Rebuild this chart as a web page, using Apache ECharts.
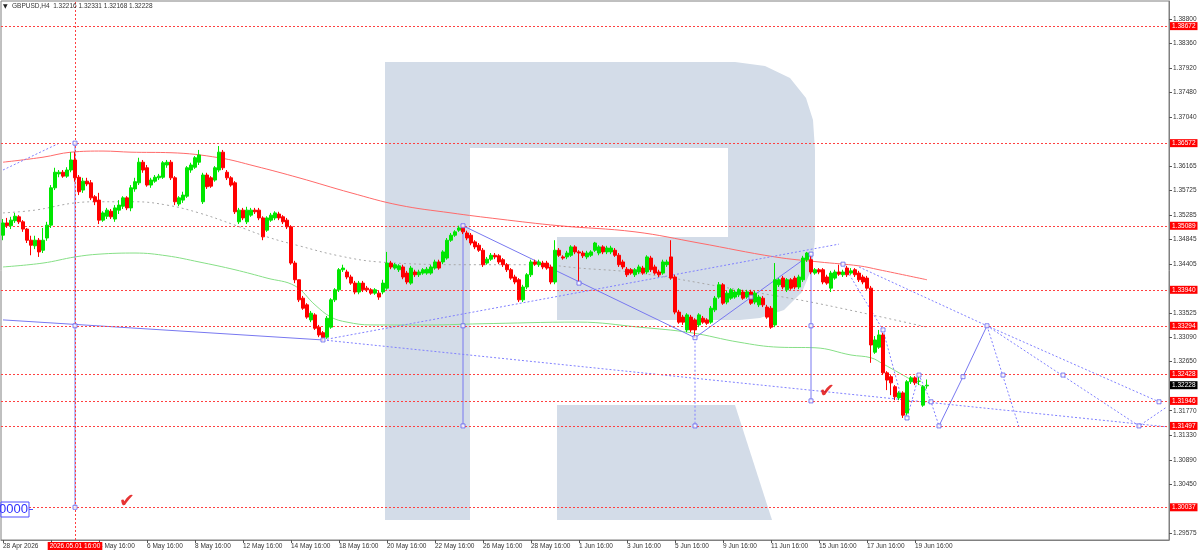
<!DOCTYPE html>
<html><head><meta charset="utf-8">
<script src="https://cdn.jsdelivr.net/npm/echarts@6/dist/echarts.min.js"></script>
<style>html,body{margin:0;padding:0;background:#fff}#c{width:1200px;height:555px}</style>
</head><body><div id="c"></div>
<script>
const TOTAL_BARS = 292;
const xTickLabels = [[0,'28 Apr 2026'],[12,'30 Apr 16:00'],[24,'4 May 16:00'],[36,'6 May 16:00'],[48,'8 May 16:00'],[60,'12 May 16:00'],[72,'14 May 16:00'],[84,'18 May 16:00'],[96,'20 May 16:00'],[108,'22 May 16:00'],[120,'26 May 16:00'],[132,'28 May 16:00'],[144,'1 Jun 16:00'],[156,'3 Jun 16:00'],[168,'5 Jun 16:00'],[180,'9 Jun 16:00'],[192,'11 Jun 16:00'],[204,'15 Jun 16:00'],[216,'17 Jun 16:00'],[228,'19 Jun 16:00']];
const yTickLabels = [1.38800,1.38360,1.37920,1.37480,1.37040,1.36165,1.35725,1.35285,1.34845,1.34405,1.33525,1.33090,1.32650,1.31770,1.31330,1.30890,1.30450,1.29575];
const priceLevels = [1.38672,1.36572,1.35089,1.33940,1.33294,1.32428,1.31946,1.31497,1.30037];
const currentPrice = 1.32228;
const crosshairIndex = 18;
const crosshairLabel = '2026.05.01 16:00';
const headerText = 'GBPUSD,H4  1.32216 1.32331 1.32168 1.32228';
// [open, close, low, high]
const candles = [
[1.3492,1.3514,1.3483,1.3521],[1.3514,1.3509,1.3505,1.3523],[1.3509,1.3519,1.3503,1.3525],[1.3518,1.3526,1.3514,1.3532],[1.3525,1.3516,1.3512,1.3528],
[1.3516,1.3503,1.3498,1.3519],[1.3503,1.3483,1.3478,1.3505],[1.3483,1.3474,1.3456,1.3491],[1.3473,1.3483,1.3467,1.3491],[1.3483,1.3462,1.3453,1.3487],
[1.3465,1.3483,1.3460,1.3505],[1.3487,1.3510,1.3482,1.3516],[1.3510,1.3577,1.3505,1.3582],[1.3577,1.3605,1.3573,1.3613],[1.3602,1.3605,1.3596,1.3609],
[1.3605,1.3598,1.3595,1.3609],[1.3598,1.3609,1.3595,1.3614],[1.3609,1.3627,1.3605,1.3641],[1.3627,1.3595,1.3588,1.3641],[1.3596,1.3570,1.3564,1.3600],
[1.3573,1.3589,1.3568,1.3595],[1.3589,1.3584,1.3580,1.3595],[1.3586,1.3559,1.3555,1.3591],[1.3561,1.3552,1.3546,1.3564],[1.3555,1.3519,1.3512,1.3568],
[1.3519,1.3532,1.3516,1.3535],[1.3526,1.3537,1.3521,1.3541],[1.3535,1.3525,1.3521,1.3539],[1.3521,1.3541,1.3516,1.3546],[1.3537,1.3546,1.3530,1.3555],
[1.3544,1.3559,1.3539,1.3562],[1.3559,1.3541,1.3537,1.3562],[1.3541,1.3577,1.3535,1.3582],[1.3575,1.3588,1.3570,1.3595],[1.3586,1.3623,1.3582,1.3631],
[1.3623,1.3609,1.3604,1.3627],[1.3613,1.3582,1.3579,1.3618],[1.3582,1.3591,1.3577,1.3595],[1.3589,1.3596,1.3586,1.3600],[1.3595,1.3598,1.3591,1.3602],
[1.3596,1.3622,1.3593,1.3625],[1.3618,1.3623,1.3613,1.3627],[1.3623,1.3595,1.3591,1.3627],[1.3595,1.3552,1.3546,1.3598],[1.3548,1.3559,1.3544,1.3562],
[1.3555,1.3564,1.3550,1.3570],[1.3562,1.3613,1.3559,1.3616],[1.3609,1.3618,1.3604,1.3622],[1.3614,1.3631,1.3611,1.3634],[1.3623,1.3636,1.3618,1.3645],
[1.3552,1.3600,1.3548,1.3604],[1.3600,1.3579,1.3575,1.3604],[1.3595,1.3580,1.3577,1.3598],[1.3591,1.3613,1.3588,1.3616],[1.3609,1.3641,1.3605,1.3652],
[1.3641,1.3613,1.3609,1.3645],[1.3605,1.3595,1.3591,1.3609],[1.3595,1.3582,1.3579,1.3598],[1.3586,1.3534,1.3530,1.3589],[1.3516,1.3537,1.3512,1.3541],
[1.3537,1.3523,1.3519,1.3541],[1.3516,1.3537,1.3512,1.3543],[1.3528,1.3537,1.3525,1.3541],[1.3537,1.3534,1.3530,1.3541],[1.3537,1.3523,1.3519,1.3541],
[1.3523,1.3489,1.3483,1.3526],[1.3501,1.3523,1.3498,1.3526],[1.3519,1.3528,1.3516,1.3532],[1.3523,1.3532,1.3519,1.3535],[1.3530,1.3523,1.3519,1.3534],
[1.3525,1.3516,1.3512,1.3528],[1.3519,1.3507,1.3503,1.3523],[1.3507,1.3442,1.3439,1.3510],[1.3442,1.3412,1.3406,1.3446],[1.3412,1.3376,1.3372,1.3412],
[1.3379,1.3361,1.3358,1.3383],[1.3367,1.3345,1.3342,1.3370],[1.3340,1.3352,1.3336,1.3356],[1.3349,1.3325,1.3322,1.3352],[1.3327,1.3313,1.3309,1.3331],
[1.3317,1.3308,1.3302,1.3320],[1.3309,1.3343,1.3306,1.3347],[1.3327,1.3376,1.3324,1.3379],[1.3376,1.3394,1.3372,1.3397],[1.3394,1.3430,1.3390,1.3433],
[1.3430,1.3433,1.3426,1.3439],[1.3426,1.3417,1.3413,1.3430],[1.3417,1.3406,1.3403,1.3421],[1.3406,1.3390,1.3386,1.3410],[1.3390,1.3406,1.3386,1.3410],
[1.3406,1.3394,1.3390,1.3410],[1.3397,1.3394,1.3390,1.3401],[1.3394,1.3388,1.3385,1.3397],[1.3388,1.3394,1.3385,1.3397],[1.3388,1.3381,1.3376,1.3392],
[1.3390,1.3406,1.3386,1.3412],[1.3397,1.3442,1.3394,1.3462],[1.3442,1.3435,1.3431,1.3446],[1.3433,1.3439,1.3430,1.3442],[1.3430,1.3437,1.3426,1.3440],
[1.3435,1.3417,1.3413,1.3439],[1.3424,1.3408,1.3404,1.3428],[1.3406,1.3433,1.3403,1.3437],[1.3426,1.3421,1.3417,1.3430],[1.3421,1.3426,1.3417,1.3430],
[1.3424,1.3430,1.3421,1.3433],[1.3424,1.3431,1.3421,1.3435],[1.3424,1.3435,1.3421,1.3439],[1.3433,1.3444,1.3430,1.3448],[1.3444,1.3433,1.3430,1.3448],
[1.3444,1.3462,1.3440,1.3465],[1.3451,1.3483,1.3448,1.3487],[1.3483,1.3492,1.3480,1.3496],[1.3492,1.3498,1.3489,1.3501],[1.3501,1.3505,1.3498,1.3509],
[1.3507,1.3498,1.3494,1.3509],[1.3496,1.3487,1.3483,1.3500],[1.3492,1.3478,1.3474,1.3496],[1.3480,1.3471,1.3467,1.3483],[1.3474,1.3465,1.3462,1.3478],
[1.3465,1.3439,1.3435,1.3469],[1.3442,1.3449,1.3439,1.3453],[1.3449,1.3456,1.3446,1.3460],[1.3456,1.3453,1.3449,1.3460],[1.3455,1.3444,1.3440,1.3458],
[1.3448,1.3439,1.3435,1.3451],[1.3439,1.3430,1.3426,1.3442],[1.3430,1.3415,1.3412,1.3433],[1.3417,1.3408,1.3404,1.3421],[1.3412,1.3376,1.3372,1.3415],
[1.3376,1.3399,1.3372,1.3403],[1.3399,1.3421,1.3395,1.3424],[1.3421,1.3444,1.3417,1.3448],[1.3444,1.3440,1.3437,1.3448],[1.3439,1.3444,1.3435,1.3448],
[1.3442,1.3435,1.3431,1.3446],[1.3442,1.3433,1.3430,1.3446],[1.3435,1.3408,1.3404,1.3439],[1.3408,1.3465,1.3404,1.3483],[1.3465,1.3456,1.3453,1.3469],
[1.3453,1.3451,1.3448,1.3456],[1.3453,1.3460,1.3449,1.3464],[1.3456,1.3471,1.3453,1.3474],[1.3471,1.3462,1.3458,1.3474],[1.3462,1.3460,1.3408,1.3465],
[1.3460,1.3455,1.3451,1.3464],[1.3453,1.3460,1.3449,1.3464],[1.3456,1.3462,1.3453,1.3465],[1.3465,1.3478,1.3462,1.3480],[1.3460,1.3471,1.3456,1.3474],
[1.3471,1.3462,1.3458,1.3474],[1.3462,1.3469,1.3458,1.3473],[1.3462,1.3469,1.3458,1.3473],[1.3465,1.3456,1.3453,1.3469],[1.3456,1.3439,1.3435,1.3460],
[1.3444,1.3435,1.3431,1.3448],[1.3431,1.3421,1.3417,1.3435],[1.3430,1.3424,1.3421,1.3433],[1.3421,1.3430,1.3417,1.3433],[1.3426,1.3435,1.3422,1.3439],
[1.3433,1.3424,1.3421,1.3437],[1.3426,1.3453,1.3422,1.3456],[1.3451,1.3430,1.3426,1.3455],[1.3435,1.3424,1.3421,1.3439],[1.3426,1.3421,1.3417,1.3430],
[1.3424,1.3444,1.3421,1.3448],[1.3439,1.3444,1.3435,1.3448],[1.3453,1.3415,1.3412,1.3483],[1.3417,1.3354,1.3350,1.3421],[1.3354,1.3336,1.3333,1.3358],
[1.3345,1.3336,1.3331,1.3349],[1.3322,1.3349,1.3318,1.3352],[1.3345,1.3322,1.3318,1.3349],[1.3340,1.3322,1.3308,1.3343],[1.3331,1.3349,1.3327,1.3352],
[1.3343,1.3336,1.3333,1.3347],[1.3340,1.3334,1.3331,1.3343],[1.3336,1.3361,1.3333,1.3365],[1.3358,1.3379,1.3354,1.3383],[1.3381,1.3403,1.3378,1.3408],
[1.3403,1.3370,1.3367,1.3406],[1.3372,1.3388,1.3368,1.3392],[1.3379,1.3394,1.3376,1.3397],[1.3381,1.3390,1.3378,1.3394],[1.3385,1.3394,1.3381,1.3397],
[1.3390,1.3379,1.3376,1.3394],[1.3381,1.3390,1.3378,1.3394],[1.3390,1.3370,1.3367,1.3394],[1.3372,1.3388,1.3368,1.3392],[1.3367,1.3381,1.3363,1.3385],
[1.3379,1.3367,1.3363,1.3383],[1.3363,1.3345,1.3342,1.3367],[1.3361,1.3327,1.3324,1.3365],[1.3331,1.3412,1.3327,1.3442],[1.3403,1.3412,1.3399,1.3415],
[1.3415,1.3399,1.3395,1.3419],[1.3394,1.3412,1.3390,1.3415],[1.3412,1.3397,1.3394,1.3415],[1.3415,1.3399,1.3395,1.3419],[1.3399,1.3417,1.3395,1.3421],
[1.3412,1.3451,1.3408,1.3455],[1.3448,1.3460,1.3444,1.3462],[1.3448,1.3426,1.3422,1.3456],[1.3424,1.3430,1.3421,1.3433],[1.3430,1.3426,1.3422,1.3433],
[1.3430,1.3408,1.3404,1.3433],[1.3417,1.3406,1.3403,1.3421],[1.3397,1.3424,1.3390,1.3428],[1.3415,1.3426,1.3412,1.3430],[1.3426,1.3422,1.3419,1.3439],
[1.3421,1.3426,1.3417,1.3430],[1.3433,1.3421,1.3417,1.3437],[1.3424,1.3428,1.3421,1.3433],[1.3430,1.3421,1.3417,1.3433],[1.3424,1.3412,1.3408,1.3428],
[1.3417,1.3408,1.3404,1.3421],[1.3415,1.3397,1.3394,1.3419],[1.3397,1.3295,1.3263,1.3401],[1.3282,1.3304,1.3279,1.3311],[1.3291,1.3313,1.3288,1.3322],
[1.3313,1.3245,1.3241,1.3317],[1.3245,1.3232,1.3214,1.3248],[1.3238,1.3227,1.3205,1.3241],[1.3220,1.3202,1.3196,1.3223],[1.3200,1.3209,1.3196,1.3212],
[1.3209,1.3169,1.3164,1.3212],[1.3173,1.3229,1.3169,1.3232],[1.3229,1.3236,1.3225,1.3239],[1.3236,1.3227,1.3223,1.3239],[1.3230,1.3230,1.3223,1.3238],
[1.3187,1.3220,1.3184,1.3223],[1.32216,1.32228,1.32168,1.32331]
];
// moving averages: [barIndex, price]
const maRed = [[0,1.3623],[10,1.3632],[17,1.3641],[25,1.3643],[32,1.3641],[42,1.3640],[54,1.3631],[63,1.3616],[74,1.3595],[87,1.3568],[99,1.3546],[112,1.3532],[124,1.3521],[139,1.3509],[158,1.3498],[174,1.3478],[193,1.3453],[204,1.3444],[214,1.3437],[219,1.3430],[231,1.3412]];
const maGreen = [[0,1.3435],[10,1.3442],[18,1.3453],[24,1.3458],[33,1.3460],[41,1.3455],[49,1.3444],[58,1.3430],[66,1.3415],[73,1.3401],[78,1.3367],[82,1.3345],[86,1.3336],[92,1.3331],[107,1.3331],[119,1.3333],[144,1.3336],[159,1.3327],[172,1.3317],[184,1.3300],[194,1.3291],[203,1.3290],[212,1.3277],[217,1.3272],[220,1.3261],[224,1.3245],[231,1.3216]];
const maGray = [[0,1.3532],[8,1.3537],[18,1.3550],[24,1.3552],[33,1.3552],[41,1.3546],[49,1.3532],[58,1.3510],[66,1.3489],[74,1.3473],[84,1.3455],[94,1.3444],[115,1.3439],[134,1.3439],[144,1.3433],[159,1.3424],[184,1.3394],[199,1.3376],[214,1.3354],[231,1.3327]];
// drawn objects: [barIndex, price]
const solidLines = [
  [[0,1.3340],[80,1.3304]],
  [[18,1.36572],[18,1.30037]],
  [[115,1.35089],[115,1.31497]],
  [[202,1.3458],[202,1.31946]],
  [[115,1.35089],[173,1.3308],[202,1.3458]],
  [[234,1.31497],[240,1.3238],[246,1.33294]]
];
const dottedLines = [
  [[0,1.3609],[14,1.3657]],
  [[80,1.3304],[291,1.3148]],
  [[80,1.3304],[209,1.3476]],
  [[173,1.3308],[173,1.31497]],
  [[210,1.3440],[220,1.3322],[226,1.3164],[229,1.3241],[232,1.3193],[234,1.31497]],
  [[214,1.3435],[246,1.33294],[289,1.3193]],
  [[246,1.33294],[254,1.3148]],
  [[246,1.33294],[284,1.31497],[291,1.3184]]
];
const markers = [[18,1.36572],[18,1.33294],[18,1.30037],[80,1.3304],[115,1.35089],[115,1.33294],[115,1.31497],[144,1.3406],[173,1.3308],[173,1.31497],[187,1.3381],[202,1.3458],[202,1.33294],[202,1.31946],[210,1.3440],[220,1.3322],[226,1.3164],[229,1.3241],[232,1.3193],[234,1.31497],[240,1.3238],[246,1.33294],[250,1.3241],[265,1.3241],[284,1.31497],[289,1.3193]];
const checkMarks = [[31,1.3013],[206,1.3211]];

const FONT = 'Liberation Sans';
const FS = 6.5;
const cats = new Array(TOTAL_BARS).fill('');
xTickLabels.forEach(([i,t]) => { cats[i] = t; });
const showCat = (idx, val) => val !== '';

const series = [];
series.push({
  type:'candlestick', data: candles, barWidth: 3, z: 5,
  itemStyle:{color:'#00e600', color0:'#ff0000', borderColor:'#00e600', borderColor0:'#ff0000', borderWidth:1},
  markLine:{
    silent:true, symbol:['none','none'], animation:false, precision:5,
    data: priceLevels.map(v => ({yAxis:v}))
      .concat([{xAxis: crosshairIndex, label:{position:'start', distance:2, formatter: crosshairLabel}}]),
    lineStyle:{color:'#ff4040', type:[2,2], width:1},
    label:{show:true, position:'end', distance:1, formatter: p => (typeof p.value === 'number' ? p.value.toFixed(5) : String(p.value)),
      backgroundColor:'#ff0000', color:'#fff', fontSize:FS, fontFamily:FONT, padding:[1,2,0,2]}
  }
});
// current price marker (label only)
series.push({type:'line', data:[], z:8, silent:true,
  markLine:{silent:true, symbol:['none','none'], animation:false, precision:5,
    data:[{yAxis: currentPrice}],
    lineStyle:{color:'rgba(0,0,0,0)', width:0},
    label:{show:true, position:'end', distance:1, formatter: p => p.value.toFixed(5),
      backgroundColor:'#000', color:'#fff', fontSize:FS, fontFamily:FONT, padding:[1,2,0,2]}}});
const maLine = (d, color, type) => ({type:'line', data:d, smooth:0.4, symbol:'none', z:3, silent:true,
  lineStyle:{color, width:1, type}});
series.push(maLine(maRed,'#ff6a6a','solid'));
series.push(maLine(maGreen,'#86df86','solid'));
series.push(maLine(maGray,'#a8a8a8',[2,3]));
solidLines.forEach(d => series.push({type:'line', data:d, symbol:'none', z:4, silent:true, lineStyle:{color:'#7878f0', width:1}}));
dottedLines.forEach(d => series.push({type:'line', data:d, symbol:'none', z:4, silent:true, lineStyle:{color:'#8080ff', width:1, type:[2,2]}}));
series.push({type:'scatter', data:markers, symbol:'rect', symbolSize:4, z:6, silent:true,
  itemStyle:{color:'#fff', borderColor:'#6060ee', borderWidth:1}});
series.push({type:'scatter', data:checkMarks, symbolSize:0, z:7, silent:true,
  label:{show:true, position:'inside', formatter:'✔', color:'#e00000', fontSize:19, fontFamily:'DejaVu Sans'}});

const wm = '#d3dce8';
const bowl = [[470,62],[735,62],[765,66],[790,78],[806,98],[813,120],[815,150],[815,240],[812,268],[802,292],[784,310],[760,318],[740,320],[557,320],[557,237],[728,237],[728,148],[470,148]];
const option = {
  animation:false,
  grid:{left:1, right:31, top:1, bottom:15, show:true, borderColor:'#808080', borderWidth:1},
  xAxis:{type:'category', data:cats, boundaryGap:true,
    axisLine:{show:true, lineStyle:{color:'#808080'}},
    axisTick:{show:true, interval:showCat, alignWithLabel:true, length:3, lineStyle:{color:'#555'}},
    axisLabel:{show:true, interval:showCat, align:'left', margin:3, fontSize:FS, color:'#333', fontFamily:FONT},
    splitLine:{show:false}},
  yAxis:{type:'value', position:'right', min:1.2945, max:1.39123, scale:true,
    axisLine:{show:true, lineStyle:{color:'#808080'}},
    axisTick:{show:true, length:3, customValues:yTickLabels, lineStyle:{color:'#555'}},
    axisLabel:{show:true, customValues:yTickLabels, margin:4, fontSize:FS, color:'#333', fontFamily:FONT, formatter:v => v.toFixed(5)},
    splitLine:{show:false}},
  graphic:[
    {type:'rect', z:0, shape:{x:385,y:62,width:85,height:458}, style:{fill:wm}},
    {type:'polygon', z:0, shape:{points:bowl}, style:{fill:wm}},
    {type:'polygon', z:0, shape:{points:[[557,405],[735,405],[772,520],[557,520]]}, style:{fill:wm}},
    {type:'text', z:100, left:3, top:3, style:{text:'▼', fontSize:6, fill:'#222', fontFamily:'DejaVu Sans'}},
    {type:'text', z:100, left:12, top:3, style:{text:headerText, fontSize:FS, fill:'#333', fontFamily:FONT}},
    {type:'rect', z:100, shape:{x:1,y:502,width:28,height:15}, style:{fill:'#fff', stroke:'#4f4fff', lineWidth:1}},
    {type:'line', z:100, shape:{x1:29,y1:509.5,x2:33,y2:509.5}, style:{stroke:'#4f4fff', lineWidth:1}},
    {type:'text', z:101, x:28, y:503, style:{text:'0000', fontSize:13, fill:'#3030ff', fontFamily:FONT, align:'right', verticalAlign:'top'}}
  ],
  series
};
const chart = echarts.init(document.getElementById('c'), null, {renderer:'canvas'});
chart.setOption(option);
</script></body></html>
